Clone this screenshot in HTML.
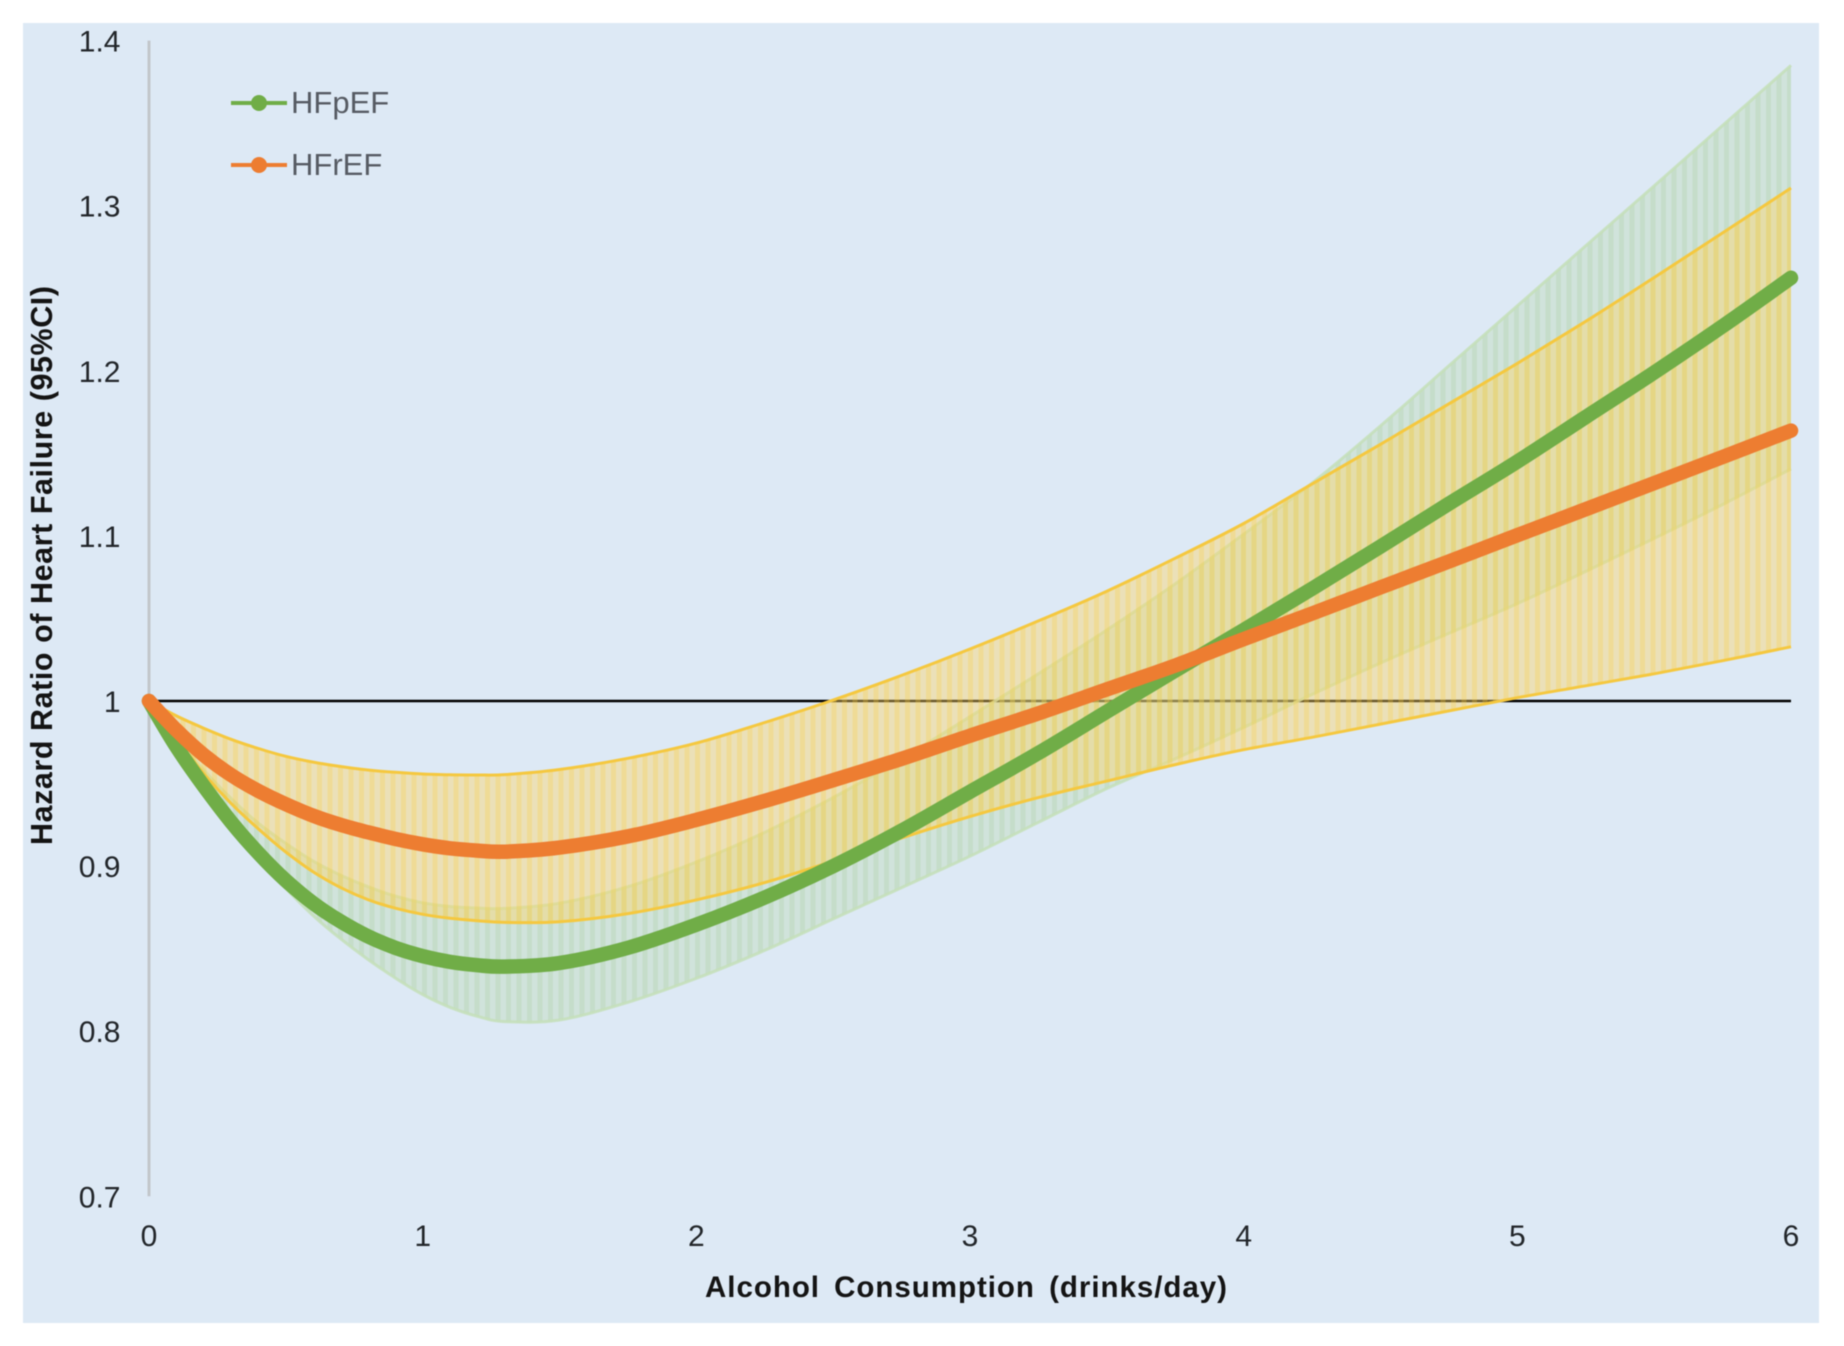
<!DOCTYPE html>
<html lang="en">
<head>
<meta charset="utf-8">
<title>Hazard Ratio of Heart Failure by Alcohol Consumption</title>
<style>
html,body{margin:0;padding:0;background:#fff;width:1844px;height:1346px;overflow:hidden}
svg{display:block;filter:blur(0.5px)}
text{font-family:"Liberation Sans",Arial,sans-serif}
</style>
</head>
<body>
<svg id="chart" xmlns="http://www.w3.org/2000/svg" width="1844" height="1346" viewBox="0 0 1844 1346">
  <defs>
    <pattern id="green-stripes" patternUnits="userSpaceOnUse" x="149" y="0" width="10.5" height="20">
      <rect x="0" y="0" width="10.5" height="20" fill="rgb(180,215,165)" fill-opacity="0.32"/>
      <rect x="0" y="0" width="5" height="20" fill="rgb(160,200,140)" fill-opacity="0.22"/>
    </pattern>
    <pattern id="yellow-stripes" patternUnits="userSpaceOnUse" x="149" y="0" width="10.5" height="20">
      <rect x="0" y="0" width="10.5" height="20" fill="rgb(255,212,100)" fill-opacity="0.42"/>
      <rect x="0" y="0" width="5" height="20" fill="rgb(245,205,60)" fill-opacity="0.28"/>
    </pattern>
  </defs>
  <rect x="23" y="23" width="1796" height="1300" fill="#dde9f5"/>
  <g id="axes"></g>
  <g id="marks"></g>
  <text x="0" y="0" transform="translate(52,845) rotate(-90)" font-size="30.5" font-weight="bold" fill="#141414" textLength="559" lengthAdjust="spacing">Hazard Ratio of Heart Failure (95%CI)</text>
  <text x="705" y="1304" font-size="29.5" font-weight="bold" fill="#141414" textLength="522" lengthAdjust="spacing" style="word-spacing:5px" transform="translate(0,-7)">Alcohol Consumption (drinks/day)</text>
  <g>
    <g>
      <line x1="231" y1="103" x2="287" y2="103" stroke="#70ad47" stroke-width="4"/>
      <circle cx="259" cy="103" r="8" fill="#70ad47"/>
      <text x="291" y="113" font-size="31" fill="#565b63">HFpEF</text>
    </g>
    <g>
      <line x1="231" y1="165" x2="287" y2="165" stroke="#ed7d31" stroke-width="4"/>
      <circle cx="259" cy="165" r="8" fill="#ed7d31"/>
      <text x="291" y="175" font-size="31" fill="#565b63">HFrEF</text>
    </g>
  </g>
</svg>
<script>
const doses = [0,0.1,0.2,0.3,0.4,0.5,0.6,0.7,0.8,0.9,1,1.1,1.2,1.3,1.5,1.75,2,2.25,2.5,2.75,3,3.25,3.5,3.75,4,4.25,4.5,4.75,5,5.25,5.5,5.75,6];
const hfpefHR = [1,0.9723,0.9485,0.9268,0.9078,0.8913,0.8775,0.8665,0.8575,0.8505,0.8455,0.842,0.84,0.8391,0.8413,0.8505,0.8645,0.881,0.9,0.9215,0.945,0.9685,0.9935,1.0185,1.043,1.068,1.0935,1.1195,1.145,1.172,1.199,1.227,1.2563];
const hfpefUpper = [1,0.9784,0.9582,0.941,0.9259,0.9138,0.903,0.8945,0.8875,0.8818,0.8778,0.8755,0.8746,0.8744,0.8775,0.8875,0.9025,0.9205,0.9415,0.965,0.9905,1.0165,1.043,1.071,1.101,1.132,1.1666,1.203,1.2393,1.2757,1.312,1.3486,1.385];
const hfpefLower = [1,0.9663,0.9451,0.9239,0.9045,0.8865,0.87,0.856,0.8435,0.8322,0.8222,0.8145,0.809,0.8058,0.8068,0.8175,0.832,0.849,0.868,0.887,0.906,0.9265,0.947,0.965,0.984,1.004,1.023,1.041,1.059,1.0785,1.0985,1.119,1.1406];
const hfrefHR = [1,0.9824,0.9673,0.9552,0.9455,0.9375,0.9305,0.925,0.9205,0.9165,0.9132,0.9108,0.9094,0.9087,0.9112,0.918,0.928,0.9395,0.952,0.965,0.979,0.9925,1.007,1.0215,1.0375,1.053,1.0688,1.0845,1.1004,1.1162,1.132,1.1478,1.1638];
const hfrefUpper = [1,0.991,0.9835,0.9768,0.9712,0.9665,0.963,0.9603,0.9582,0.9568,0.9558,0.9553,0.9552,0.9554,0.9585,0.9653,0.9745,0.987,1.0006,1.0155,1.0315,1.0485,1.0665,1.0865,1.1075,1.1315,1.1555,1.18,1.2045,1.23,1.2565,1.2835,1.3107];
const hfrefLower = [1,0.9774,0.956,0.938,0.9225,0.9085,0.8965,0.887,0.8797,0.8745,0.8708,0.8684,0.8669,0.8659,0.8663,0.8712,0.8795,0.89,0.903,0.917,0.93,0.9415,0.9515,0.9615,0.9705,0.978,0.986,0.994,1.002,1.0092,1.0165,1.0244,1.0328];
const xTickLabels = ['0','1','2','3','4','5','6'];
const yTickLabels = ['0.7','0.8','0.9','1','1.1','1.2','1.3','1.4'];
const referenceValue = 1;

const SVG_NS = 'http://www.w3.org/2000/svg';
const xScale = function (v) { return 149 + (v - 0) * (1791 - 149) / 6; };
const yScale = function (v) { return 701 - (v - 1) * 1651; };

function make(tag, parent, attrs) {
  const el = document.createElementNS(SVG_NS, tag);
  Object.keys(attrs).forEach(function (k) { el.setAttribute(k, attrs[k]); });
  parent.appendChild(el);
  return el;
}
function toPoints(xs, ys) {
  return xs.map(function (x, i) { return [xScale(x), yScale(ys[i])]; });
}
function curveSegments(p) {
  let d = '';
  for (let i = 0; i < p.length - 1; i++) {
    const a = p[Math.max(i - 1, 0)], b = p[i], c = p[i + 1], e = p[Math.min(i + 2, p.length - 1)];
    const c1x = b[0] + (c[0] - a[0]) / 6, c1y = b[1] + (c[1] - a[1]) / 6;
    const c2x = c[0] - (e[0] - b[0]) / 6, c2y = c[1] - (e[1] - b[1]) / 6;
    d += 'C' + c1x.toFixed(1) + ' ' + c1y.toFixed(1) + ' ' + c2x.toFixed(1) + ' ' + c2y.toFixed(1) + ' ' + c[0].toFixed(1) + ' ' + c[1].toFixed(1);
  }
  return d;
}
function openCurve(p) {
  return 'M' + p[0][0].toFixed(1) + ' ' + p[0][1].toFixed(1) + curveSegments(p);
}
function bandPath(up, lo) {
  const rev = lo.slice().reverse();
  return openCurve(up) + 'L' + rev[0][0].toFixed(1) + ' ' + rev[0][1].toFixed(1) + curveSegments(rev) + 'Z';
}

const axes = document.getElementById('axes');
const marks = document.getElementById('marks');

const yAxisLine = make('line', axes, {x1: xScale(0), x2: xScale(0), y1: yScale(1.4), y2: yScale(0.7), stroke: '#c2c6cb', 'stroke-width': 3});



yTickLabels.forEach(function (label) {
  const t = make('text', axes, {x: 120.5, y: yScale(parseFloat(label)) + 11, 'text-anchor': 'end', 'font-size': 30, fill: '#22262a'});
  t.textContent = label;
  
  
});
xTickLabels.forEach(function (label) {
  const t = make('text', axes, {x: xScale(parseFloat(label)), y: 1246, 'text-anchor': 'middle', 'font-size': 30, fill: '#22262a'});
  t.textContent = label;
  
  
});

const refLine = make('line', marks, {x1: xScale(0), x2: xScale(6), y1: yScale(referenceValue), y2: yScale(referenceValue), stroke: '#000', 'stroke-width': 2.4});



const gUp = toPoints(doses, hfpefUpper), gLo = toPoints(doses, hfpefLower), gMid = toPoints(doses, hfpefHR);
const oUp = toPoints(doses, hfrefUpper), oLo = toPoints(doses, hfrefLower), oMid = toPoints(doses, hfrefHR);

const greenBand = make('path', marks, {d: bandPath(gUp, gLo), fill: 'url(#green-stripes)'});


const greenUpperEdge = make('path', marks, {d: openCurve(gUp), fill: 'none', stroke: '#c4dfb8', 'stroke-width': 3, 'stroke-opacity': 0.85});


const greenLowerEdge = make('path', marks, {d: openCurve(gLo), fill: 'none', stroke: '#c4dfb8', 'stroke-width': 3, 'stroke-opacity': 0.85});



const yellowBand = make('path', marks, {d: bandPath(oUp, oLo), fill: 'url(#yellow-stripes)'});


const yellowUpperEdge = make('path', marks, {d: openCurve(oUp), fill: 'none', stroke: '#f5c83f', 'stroke-width': 3});


const yellowLowerEdge = make('path', marks, {d: openCurve(oLo), fill: 'none', stroke: '#f5c83f', 'stroke-width': 3});



const greenLine = make('path', marks, {d: openCurve(gMid), fill: 'none', stroke: '#70ad47', 'stroke-width': 14.5, 'stroke-linecap': 'round', 'stroke-linejoin': 'round'});


const orangeLine = make('path', marks, {d: openCurve(oMid), fill: 'none', stroke: '#ed7d31', 'stroke-width': 14.5, 'stroke-linecap': 'round', 'stroke-linejoin': 'round'});


</script>
</body>
</html>
